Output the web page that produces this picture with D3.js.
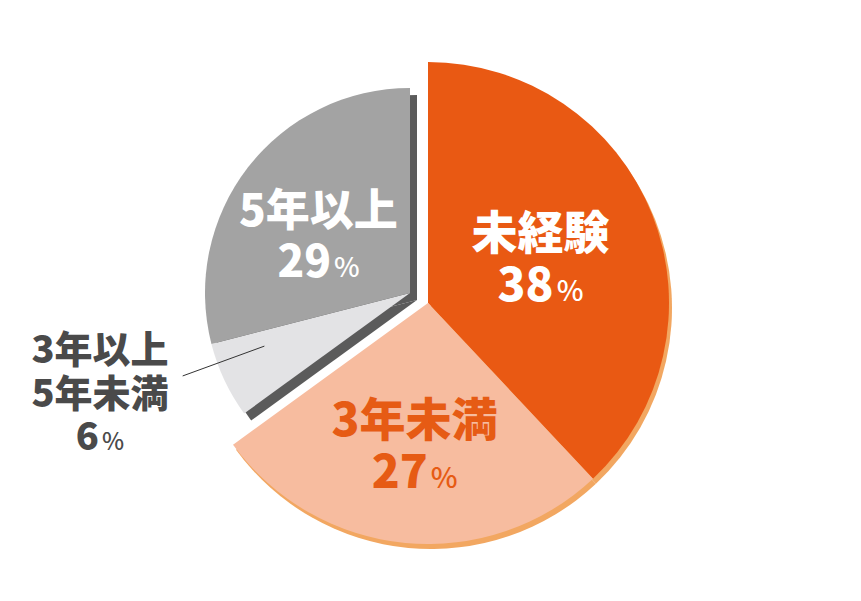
<!DOCTYPE html>
<html lang="ja">
<head>
<meta charset="UTF-8">
<title>経験年数</title>
<script src="https://d3js.org/d3.v7.min.js"></script>
<style>
  body { margin: 0; background: #fff; }
  text { font-family: "Noto Sans CJK JP", "Noto Sans", sans-serif; font-weight: 900; }
</style>
</head>
<body>
<svg></svg>
<script>
// データ
const categories = ["未経験", "3年未満", "3年以上\n5年未満", "5年以上"];
const values = [38, 27, 6, 29];
const groupOf = ["orange", "orange", "gray", "gray"];

const width = 861, height = 601;
const svg = d3.select("svg").attr("width", width).attr("height", height);

// 色
const fillColor = ["#e95913", "#f7bc9f", "#e3e3e5", "#a3a3a3"];
const labelColor = ["#ffffff", "#e65b14", "#4a4a4a", "#ffffff"];

// 2つのグループ(オレンジ/グレー)は中心と半径をずらして描く
const groupConf = {
  orange: { cx: 428, cy: 303, r: 241, shadow: "#f2a761", dx: 3, dy: 5 },
  gray:   { cx: 410, cy: 293, r: 205, shadow: "#5b5b5b", dx: 7, dy: 7 }
};

const arcs = d3.pie().sort(null).value(d => d)(values);
arcs.forEach((a, i) => { a.group = groupOf[i]; a.i = i; });

["gray", "orange"].forEach(gname => {
  const g = groupConf[gname];
  const arc = d3.arc().innerRadius(0).outerRadius(g.r);
  const sub = arcs.filter(a => a.group === gname);

  // 影
  svg.append("g")
    .attr("transform", `translate(${g.cx + g.dx},${g.cy + g.dy})`)
    .selectAll("path")
    .data(sub)
    .join("path")
    .attr("d", arc)
    .attr("fill", g.shadow);

  // 本体
  svg.append("g")
    .attr("transform", `translate(${g.cx},${g.cy})`)
    .selectAll("path")
    .data(sub)
    .join("path")
    .attr("d", arc)
    .attr("fill", d => fillColor[d.i]);
});

// ラベル配置(半径, フォントサイズ)
const labelConf = [
  { r: 121, fs: 46, da: 0 },
  { r: 143, fs: 46, da: 0 },
  { r: 0,   fs: 38, da: 0.09, outside: true },
  { r: 108, fs: 44, da: -0.1 }
];

arcs.forEach(a => {
  const g = groupConf[a.group];
  const c = labelConf[a.i];
  const mid = (a.startAngle + a.endAngle) / 2 + c.da;
  let x, y;

  if (c.outside) {
    // 引き出し線
    svg.append("line")
      .attr("x1", g.cx + Math.sin(mid) * 155).attr("y1", g.cy - Math.cos(mid) * 155)
      .attr("x2", g.cx + Math.sin(mid) * 242).attr("y2", g.cy - Math.cos(mid) * 242)
      .attr("stroke", "#333").attr("stroke-width", 1);
    x = 100; y = 393;
  } else {
    x = g.cx + Math.sin(mid) * c.r;
    y = g.cy - Math.cos(mid) * c.r;
  }

  const lines = categories[a.i].split("\n");
  const lh = c.fs * 1.14;
  const n = lines.length + 1;
  const y0 = y - (n - 1) * lh / 2 + c.fs * 0.36;

  const t = svg.append("text")
    .attr("text-anchor", "middle")
    .attr("fill", labelColor[a.i])
    .attr("font-size", c.fs);

  lines.forEach((s, k) => {
    t.append("tspan").attr("x", x).attr("y", y0 + k * lh).text(s);
  });
  const last = t.append("tspan").attr("x", x).attr("y", y0 + lines.length * lh);
  last.append("tspan").text(values[a.i]);
  last.append("tspan").attr("font-size", c.fs * 0.62).attr("font-weight", 500).attr("dx", 3).text("%");
});
</script>
</body>
</html>
